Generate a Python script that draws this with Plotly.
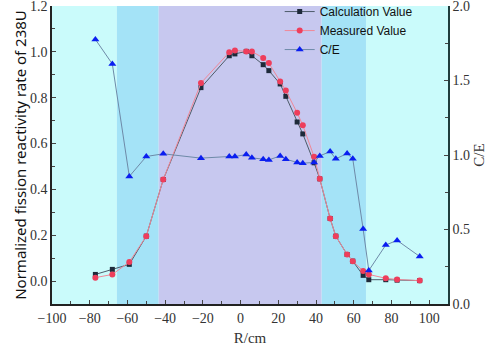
import plotly.graph_objects as go

# Positions (cm)
r_cm = [-77, -68, -59, -50, -41, -21, -6, -3, 3, 6, 12, 15, 21, 24, 30, 33,
        39, 42, 47.5, 50.5, 56.5, 59.5, 65, 68, 77, 83, 95]
calc_vals = [0.029, 0.051, 0.073, 0.196, 0.443, 0.844, 0.983, 0.991, 1.002, 0.983,
             0.944, 0.918, 0.860, 0.806, 0.694, 0.642, 0.516, 0.446, 0.273, 0.196,
             0.116, 0.087, 0.025, 0.006, 0.006, 0.004, 0.002]
meas_vals = [0.015, 0.029, 0.083, 0.196, 0.443, 0.864, 0.998, 1.006, 1.002, 1.002,
             0.973, 0.951, 0.871, 0.831, 0.734, 0.680, 0.542, 0.446, 0.273, 0.196,
             0.116, 0.087, 0.044, 0.029, 0.012, 0.007, 0.002]
ce_vals = [1.776, 1.611, 0.856, 0.990, 1.008, 0.979, 0.990, 0.990, 1.003, 0.981,
           0.972, 0.967, 0.994, 0.972, 0.950, 0.945, 0.950, 0.994, 1.023, 0.974,
           1.010, 0.974, 0.503, 0.225, 0.396, 0.427, 0.319]

# Region bands
band_edges = [-100, -65.6, -43.4, 43.0, 66.5, 110]
band_colors = ["#CAFBFB", "#A4E3F7", "#C7C8EF", "#A4E3F7", "#CAFBFB"]

x_ticks = [-100, -80, -60, -40, -20, 0, 20, 40, 60, 80, 100]
y_ticks = [0.0, 0.2, 0.4, 0.6, 0.8, 1.0, 1.2]
y2_ticks = [0.0, 0.5, 1.0, 1.5, 2.0]

fig = go.Figure()

shapes = []
for i, c in enumerate(band_colors):
    shapes.append(dict(type="rect", xref="x", yref="paper",
                       x0=band_edges[i], x1=band_edges[i + 1], y0=0, y1=1,
                       fillcolor=c, line_width=0, layer="below"))

fig.add_trace(go.Scatter(x=r_cm, y=calc_vals, name="Calculation Value",
                         mode="lines+markers",
                         line=dict(color="#4E5C6A", width=1),
                         marker=dict(symbol="square", size=5, color="#1E2A3A")))
fig.add_trace(go.Scatter(x=r_cm, y=meas_vals, name="Measured Value",
                         mode="lines+markers",
                         line=dict(color="#F08898", width=1),
                         marker=dict(symbol="circle", size=6, color="#EE3E5C")))
fig.add_trace(go.Scatter(x=r_cm, y=ce_vals, name="C/E", yaxis="y2",
                         mode="lines+markers",
                         line=dict(color="#6E8AA8", width=1),
                         marker=dict(symbol="triangle-up", size=7, color="#0A1EF0")))

tickfont = dict(family="Liberation Serif", size=14, color="#333333")

fig.update_layout(
    width=498, height=346,
    margin=dict(l=52, r=50, t=6, b=42, autoexpand=False),
    paper_bgcolor="white", plot_bgcolor="white",
    shapes=shapes,
    showlegend=True,
    legend=dict(x=0.575, y=1.03, xanchor="left", yanchor="top",
                bgcolor="rgba(0,0,0,0)", font=dict(family="Liberation Sans", size=12, color="#111"),
                tracegroupgap=0, itemwidth=30),
    xaxis=dict(range=[-100, 110], tickvals=x_ticks, ticks="inside", ticklen=4,
               showgrid=False, zeroline=False, showline=True, linecolor="#222", linewidth=1.5,
               tickfont=tickfont, mirror=False, automargin=False, ticklabeloverflow="allow",
               minor=dict(ticks="inside", dtick=10, ticklen=3, showgrid=False),
               title=dict(text="R/cm", font=dict(family="Liberation Serif", size=15, color="#333333"),
                          standoff=9)),
    yaxis=dict(range=[-0.1, 1.2], tickvals=y_ticks, tickformat=".1f", ticks="inside", ticklen=4,
               showgrid=False, zeroline=False, showline=True, linecolor="#222", linewidth=1.5,
               tickfont=tickfont, automargin=False, ticklabeloverflow="allow",
               minor=dict(ticks="inside", dtick=0.1, ticklen=3, showgrid=False),
               title=dict(text="Normalized fission reactivity rate of 238U",
                          font=dict(family="Noto Sans", size=15, color="#111111"), standoff=0)),
    yaxis2=dict(range=[0, 2.0], tickvals=y2_ticks, tickformat=".1f", overlaying="y", side="right",
                ticks="inside", ticklen=4, showgrid=False, zeroline=False, showline=True,
                linecolor="#1E3C3C", linewidth=1.5, tickfont=tickfont, automargin=False,
                ticklabeloverflow="allow",
                minor=dict(ticks="inside", dtick=0.25, ticklen=3, showgrid=False),
                title=dict(text="C/E", font=dict(family="Liberation Serif", size=15, color="#333333"),
                           standoff=4)),
)

fig.write_html("out.html", config={"displayModeBar": False},
               post_script="document.body.style.margin='0px';document.body.style.padding='0px';")
